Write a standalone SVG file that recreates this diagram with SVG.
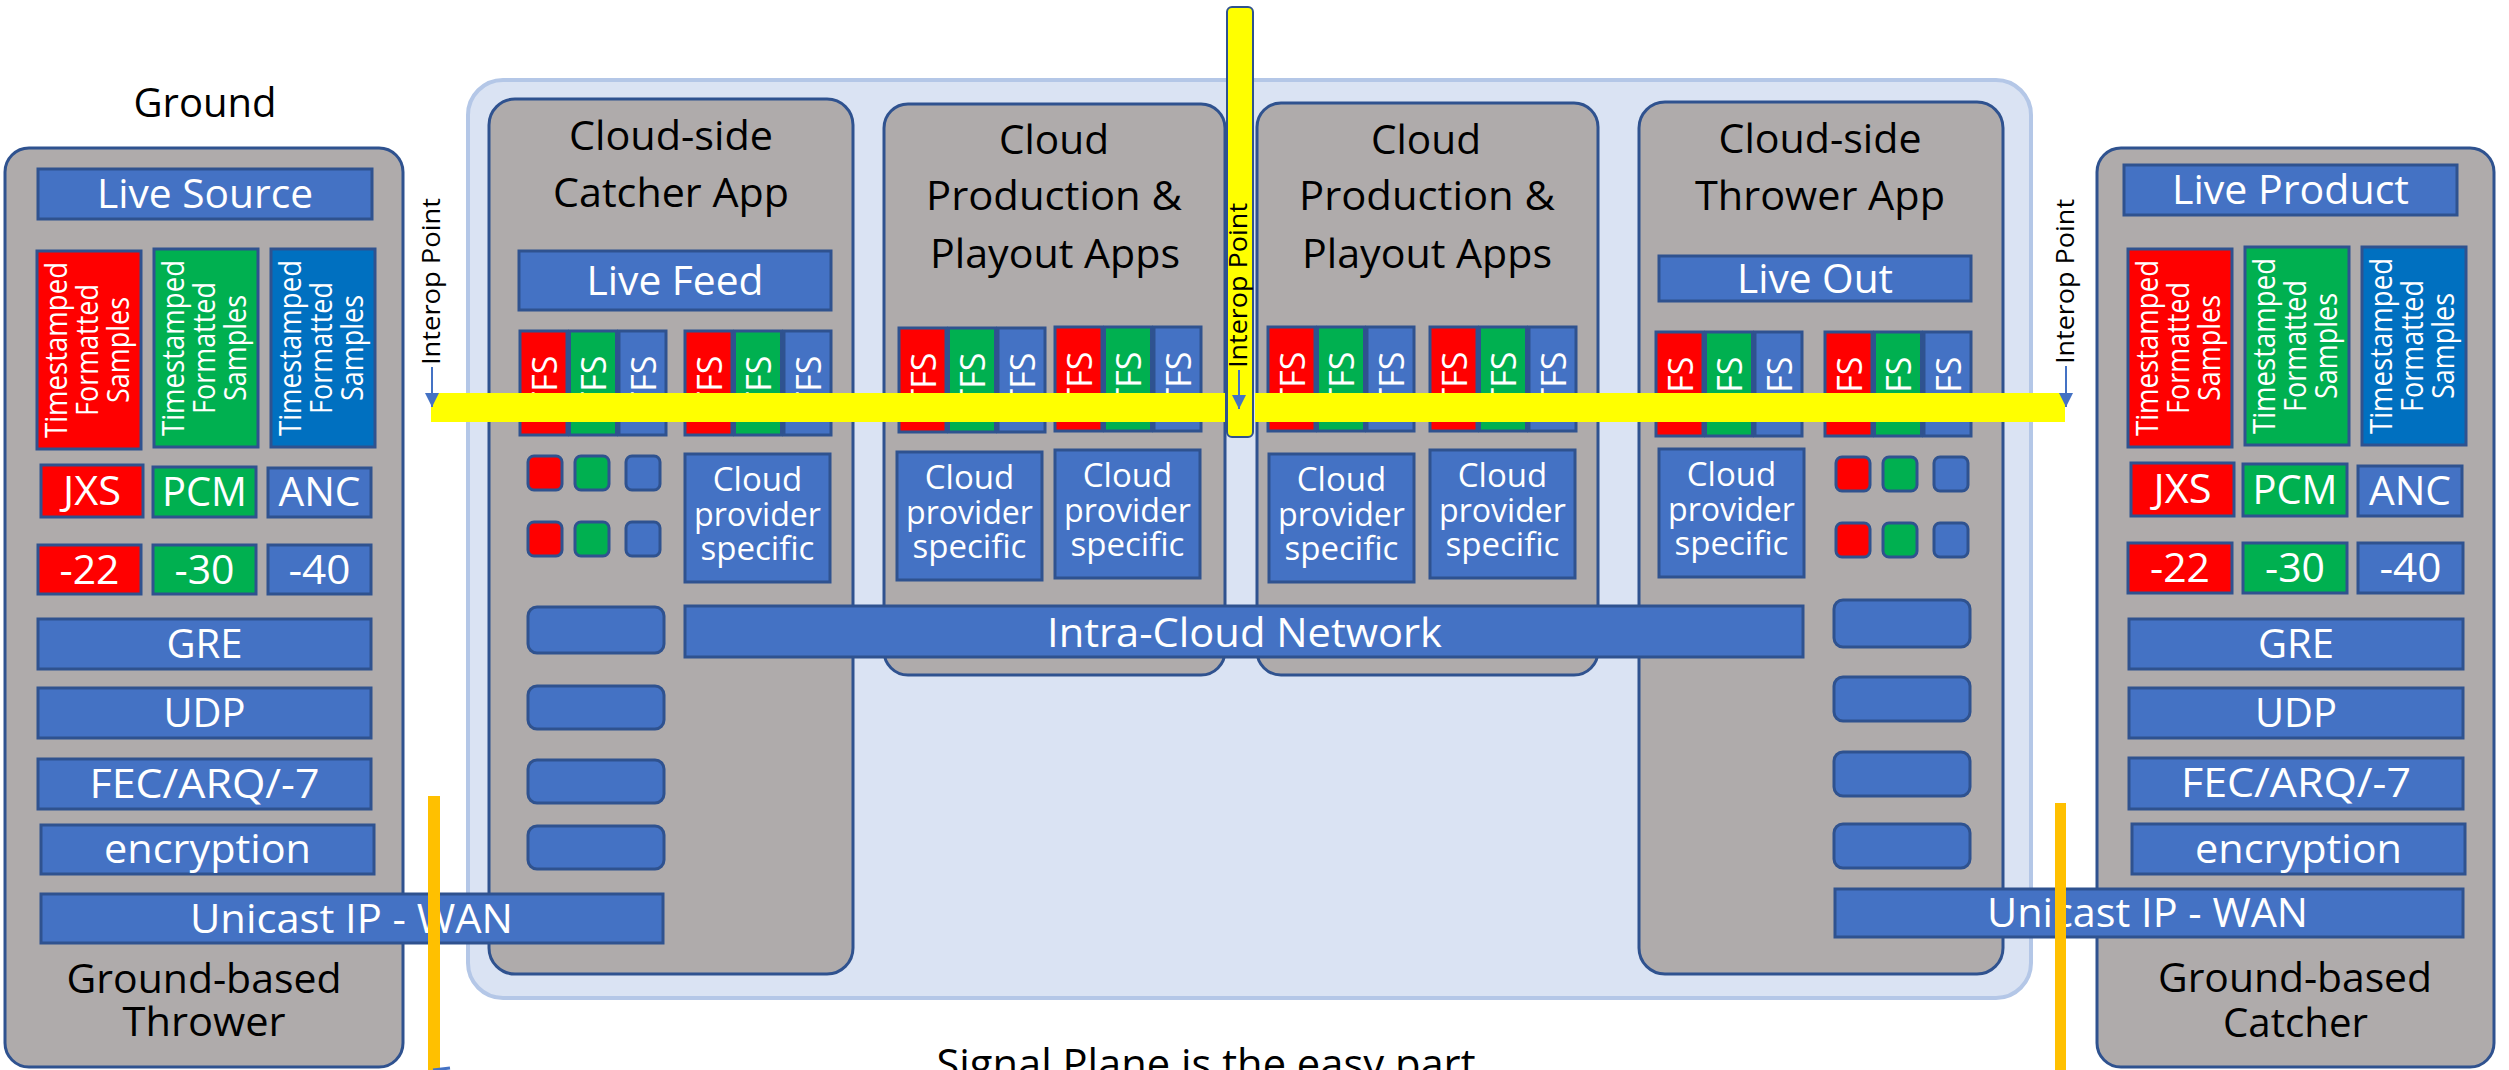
<svg xmlns="http://www.w3.org/2000/svg" xmlns:xlink="http://www.w3.org/1999/xlink" width="2509" height="1070" viewBox="0 0 2509 1070">
<style>
text{font-family:"Open Sans","Noto Sans","DejaVu Sans",sans-serif;}
.gbox{fill:#AFABAB;stroke:#2F528F;stroke-width:3}
.blue{fill:#4472C4;stroke:#2F528F;stroke-width:3}
.red{fill:#FF0000;stroke:#2F528F;stroke-width:3}
.green{fill:#00B050;stroke:#2F528F;stroke-width:3}
.dblue{fill:#0070C0;stroke:#2F528F;stroke-width:3}
.slot{fill:#4472C4;stroke:#2F528F;stroke-width:3}
.w{fill:#FFFFFF;text-anchor:middle}
.k{fill:#000000;text-anchor:middle}
.f40{font-size:40px}
.f41{font-size:41px}
.f32{font-size:33px}
.f34{font-size:34px}
.f29{font-size:30.5px}
.f26{font-size:26px}
.yel{fill:#FFFF00}
.org{fill:#FFC000}
.arr{stroke:#4472C4;stroke-width:2;fill:none}
</style>
<defs>
<marker id="ah" markerUnits="userSpaceOnUse" markerWidth="14" markerHeight="16" refX="14" refY="7" orient="auto" viewBox="0 0 14 14">
<path d="M0,0 L14,7 L0,14 z" fill="#4472C4"/>
</marker>
<g id="tfs">
<rect class="red" x="0" y="0" width="47" height="104"/>
<rect class="green" x="49.5" y="0" width="47" height="104"/>
<rect class="blue" x="99" y="0" width="47" height="104"/>
<text class="w f34" transform="translate(24.5,52) rotate(-90)" y="12">TFS</text>
<text class="w f34" transform="translate(74,52) rotate(-90)" y="12">TFS</text>
<text class="w f34" transform="translate(123.5,52) rotate(-90)" y="12">TFS</text>
</g>
<g id="sq">
<rect class="red" x="0" y="0" width="34" height="34" rx="6"/>
<rect class="green" x="47" y="0" width="34" height="34" rx="6"/>
<rect class="blue" x="98" y="0" width="34" height="34" rx="6"/>
<rect class="red" x="0" y="66" width="34" height="34" rx="6"/>
<rect class="green" x="47" y="66" width="34" height="34" rx="6"/>
<rect class="blue" x="98" y="66" width="34" height="34" rx="6"/>
</g>
<g id="cps">
<rect class="blue" x="0" y="0" width="145" height="128"/>
<text class="w f32" x="72.5" y="37">Cloud</text>
<text class="w f32" x="72.5" y="72" textLength="127" lengthAdjust="spacingAndGlyphs">provider</text>
<text class="w f32" x="72.5" y="106">specific</text>
</g>
<g id="tfsbig">
<rect class="red" x="0" y="0" width="104" height="198"/>
<rect class="green" x="117" y="-2" width="104" height="198"/>
<rect class="dblue" x="234" y="-2" width="104" height="198"/>
<g transform="translate(52,99) rotate(-90)">
<text class="w f29" y="-22" textLength="176" lengthAdjust="spacingAndGlyphs">Timestamped</text>
<text class="w f29" y="9" textLength="132" lengthAdjust="spacingAndGlyphs">Formatted</text>
<text class="w f29" y="40" textLength="106" lengthAdjust="spacingAndGlyphs">Samples</text>
</g>
<g transform="translate(169,97) rotate(-90)">
<text class="w f29" y="-22" textLength="176" lengthAdjust="spacingAndGlyphs">Timestamped</text>
<text class="w f29" y="9" textLength="132" lengthAdjust="spacingAndGlyphs">Formatted</text>
<text class="w f29" y="40" textLength="106" lengthAdjust="spacingAndGlyphs">Samples</text>
</g>
<g transform="translate(286,97) rotate(-90)">
<text class="w f29" y="-22" textLength="176" lengthAdjust="spacingAndGlyphs">Timestamped</text>
<text class="w f29" y="9" textLength="132" lengthAdjust="spacingAndGlyphs">Formatted</text>
<text class="w f29" y="40" textLength="106" lengthAdjust="spacingAndGlyphs">Samples</text>
</g>
</g>
</defs>

<rect width="2509" height="1070" fill="#FFFFFF"/>

<g id="cloud-region">
<rect x="468" y="80" width="1563" height="918" rx="35" fill="#DAE3F3" stroke="#B4C7E7" stroke-width="4"/>
</g>

<text class="k f41" x="205" y="117" textLength="143" lengthAdjust="spacingAndGlyphs">Ground</text>

<g id="ground-thrower">
<rect class="gbox" x="5" y="148" width="398" height="919" rx="24"/>
<rect class="blue" x="38" y="169" width="334" height="50"/>
<text class="w f40" x="205" y="208" textLength="216" lengthAdjust="spacingAndGlyphs">Live Source</text>
<use xlink:href="#tfsbig" x="37" y="251"/>
<rect class="red" x="41" y="465" width="102" height="52"/>
<text class="w f40" x="92" y="505" textLength="58" lengthAdjust="spacingAndGlyphs">JXS</text>
<rect class="green" x="153" y="467" width="103" height="50"/>
<text class="w f40" x="204.5" y="506" textLength="85" lengthAdjust="spacingAndGlyphs">PCM</text>
<rect class="blue" x="268" y="468" width="103" height="49"/>
<text class="w f40" x="319.5" y="506" textLength="82" lengthAdjust="spacingAndGlyphs">ANC</text>
<rect class="red" x="38" y="545" width="103" height="49"/>
<text class="w f40" x="89.5" y="584" textLength="60" lengthAdjust="spacingAndGlyphs">-22</text>
<rect class="green" x="153" y="545" width="103" height="49"/>
<text class="w f40" x="204.5" y="584" textLength="60" lengthAdjust="spacingAndGlyphs">-30</text>
<rect class="blue" x="268" y="545" width="103" height="49"/>
<text class="w f40" x="319.5" y="584" textLength="62" lengthAdjust="spacingAndGlyphs">-40</text>
<rect class="blue" x="38" y="619" width="333" height="50"/>
<text class="w f40" x="204.5" y="658" textLength="76" lengthAdjust="spacingAndGlyphs">GRE</text>
<rect class="blue" x="38" y="688" width="333" height="50"/>
<text class="w f40" x="204.5" y="727" textLength="82" lengthAdjust="spacingAndGlyphs">UDP</text>
<rect class="blue" x="38" y="759" width="333" height="50"/>
<text class="w f40" x="204.5" y="798" textLength="230" lengthAdjust="spacingAndGlyphs">FEC/ARQ/-7</text>
<rect class="blue" x="41" y="825" width="333" height="49"/>
<text class="w f40" x="207.5" y="863" textLength="207" lengthAdjust="spacingAndGlyphs">encryption</text>
<text class="k f40" x="204" y="993" textLength="275" lengthAdjust="spacingAndGlyphs">Ground-based</text>
<text class="k f40" x="204" y="1036" textLength="163" lengthAdjust="spacingAndGlyphs">Thrower</text>
</g>

<g id="ground-catcher">
<rect class="gbox" x="2097" y="148" width="397" height="919" rx="24"/>
<rect class="blue" x="2124" y="165" width="333" height="50"/>
<text class="w f40" x="2290.5" y="204" textLength="237" lengthAdjust="spacingAndGlyphs">Live Product</text>
<use xlink:href="#tfsbig" x="2128" y="249"/>
<rect class="red" x="2131" y="463" width="103" height="53"/>
<text class="w f40" x="2182.5" y="503" textLength="58" lengthAdjust="spacingAndGlyphs">JXS</text>
<rect class="green" x="2243" y="464" width="104" height="52"/>
<text class="w f40" x="2295" y="504" textLength="85" lengthAdjust="spacingAndGlyphs">PCM</text>
<rect class="blue" x="2358" y="466" width="104" height="50"/>
<text class="w f40" x="2410" y="505" textLength="82" lengthAdjust="spacingAndGlyphs">ANC</text>
<rect class="red" x="2128" y="543" width="104" height="50"/>
<text class="w f40" x="2180" y="582" textLength="60" lengthAdjust="spacingAndGlyphs">-22</text>
<rect class="green" x="2243" y="543" width="104" height="50"/>
<text class="w f40" x="2295" y="582" textLength="60" lengthAdjust="spacingAndGlyphs">-30</text>
<rect class="blue" x="2358" y="543" width="105" height="50"/>
<text class="w f40" x="2410.5" y="582" textLength="62" lengthAdjust="spacingAndGlyphs">-40</text>
<rect class="blue" x="2129" y="619" width="334" height="50"/>
<text class="w f40" x="2296" y="658" textLength="76" lengthAdjust="spacingAndGlyphs">GRE</text>
<rect class="blue" x="2129" y="688" width="334" height="50"/>
<text class="w f40" x="2296" y="727" textLength="82" lengthAdjust="spacingAndGlyphs">UDP</text>
<rect class="blue" x="2129" y="758" width="334" height="51"/>
<text class="w f40" x="2296" y="797" textLength="230" lengthAdjust="spacingAndGlyphs">FEC/ARQ/-7</text>
<rect class="blue" x="2132" y="824" width="333" height="50"/>
<text class="w f40" x="2298.5" y="863" textLength="207" lengthAdjust="spacingAndGlyphs">encryption</text>
<text class="k f40" x="2295" y="992" textLength="274" lengthAdjust="spacingAndGlyphs">Ground-based</text>
<text class="k f40" x="2295.5" y="1037" textLength="145" lengthAdjust="spacingAndGlyphs">Catcher</text>
</g>

<g id="catcher-app">
<rect class="gbox" x="489" y="99" width="364" height="875" rx="26"/>
<text class="k f41" x="671" y="150" textLength="204" lengthAdjust="spacingAndGlyphs">Cloud-side</text>
<text class="k f41" x="671" y="207" textLength="236" lengthAdjust="spacingAndGlyphs">Catcher App</text>
<rect class="blue" x="519" y="251" width="312" height="59"/>
<text class="w f40" x="675" y="295" textLength="177" lengthAdjust="spacingAndGlyphs">Live Feed</text>
<use xlink:href="#tfs" x="520" y="331"/>
<use xlink:href="#tfs" x="685" y="331"/>
<use xlink:href="#sq" x="528" y="456"/>
<use xlink:href="#cps" x="685" y="454"/>
<rect class="slot" x="528" y="607" width="136" height="46" rx="9"/>
<rect class="slot" x="528" y="686" width="136" height="43" rx="9"/>
<rect class="slot" x="528" y="760" width="136" height="43" rx="9"/>
<rect class="slot" x="528" y="826" width="136" height="43" rx="9"/>
</g>

<g id="production-apps-1">
<rect class="gbox" x="884" y="104" width="341" height="571" rx="24"/>
<text class="k f41" x="1054" y="154" textLength="110" lengthAdjust="spacingAndGlyphs">Cloud</text>
<text class="k f41" x="1054" y="210" textLength="256" lengthAdjust="spacingAndGlyphs">Production &amp;</text>
<text class="k f41" x="1055" y="268" textLength="250" lengthAdjust="spacingAndGlyphs">Playout Apps</text>
<use xlink:href="#tfs" x="899" y="328"/>
<use xlink:href="#tfs" x="1055" y="327"/>
<use xlink:href="#cps" x="897" y="452"/>
<use xlink:href="#cps" x="1055" y="450"/>
</g>

<g id="production-apps-2">
<rect class="gbox" x="1257" y="103" width="341" height="572" rx="24"/>
<text class="k f41" x="1426" y="154" textLength="110" lengthAdjust="spacingAndGlyphs">Cloud</text>
<text class="k f41" x="1427" y="210" textLength="256" lengthAdjust="spacingAndGlyphs">Production &amp;</text>
<text class="k f41" x="1427" y="268" textLength="250" lengthAdjust="spacingAndGlyphs">Playout Apps</text>
<use xlink:href="#tfs" x="1268" y="327"/>
<use xlink:href="#tfs" x="1430" y="327"/>
<use xlink:href="#cps" x="1269" y="454"/>
<use xlink:href="#cps" x="1430" y="450"/>
</g>

<g id="thrower-app">
<rect class="gbox" x="1639" y="102" width="364" height="872" rx="26"/>
<text class="k f41" x="1820" y="153" textLength="203" lengthAdjust="spacingAndGlyphs">Cloud-side</text>
<text class="k f41" x="1820" y="210" textLength="250" lengthAdjust="spacingAndGlyphs">Thrower App</text>
<rect class="blue" x="1659" y="256" width="312" height="45"/>
<text class="w f40" x="1815" y="293" textLength="156" lengthAdjust="spacingAndGlyphs">Live Out</text>
<use xlink:href="#tfs" x="1656" y="332"/>
<use xlink:href="#tfs" x="1825" y="332"/>
<use xlink:href="#cps" x="1659" y="449"/>
<use xlink:href="#sq" x="1836" y="457"/>
<rect class="slot" x="1834" y="600" width="136" height="47" rx="9"/>
<rect class="slot" x="1834" y="677" width="136" height="44" rx="9"/>
<rect class="slot" x="1834" y="752" width="136" height="44" rx="9"/>
<rect class="slot" x="1834" y="824" width="136" height="44" rx="9"/>
</g>

<g id="intra-cloud-network">
<rect class="blue" x="685" y="606" width="1118" height="51"/>
<text class="w f41" x="1244.5" y="647" textLength="395" lengthAdjust="spacingAndGlyphs">Intra-Cloud Network</text>
</g>

<g id="unicast-left">
<rect class="blue" x="41" y="894" width="622" height="49"/>
<text class="w f40" x="351.5" y="933" textLength="323" lengthAdjust="spacingAndGlyphs">Unicast IP - WAN</text>
</g>

<g id="unicast-right">
<rect class="blue" x="1835" y="889" width="628" height="48"/>
<text class="w f40" x="2147.5" y="927" textLength="321" lengthAdjust="spacingAndGlyphs">Unicast IP - WAN</text>
</g>

<g id="connectors">
<rect class="yel" x="431" y="393" width="794" height="29"/>
<rect class="yel" x="1255" y="393" width="810" height="29"/>
<rect x="1227" y="7" width="26" height="430" rx="5" fill="#FFFF00" stroke="#2F528F" stroke-width="2"/>
<line class="arr" x1="432" y1="367" x2="432" y2="407" marker-end="url(#ah)"/>
<line class="arr" x1="1239" y1="370" x2="1239" y2="409" marker-end="url(#ah)"/>
<line class="arr" x1="2066" y1="366" x2="2066" y2="407" marker-end="url(#ah)"/>
<rect class="org" x="428" y="796" width="12" height="274"/>
<rect class="org" x="2055" y="803" width="11" height="267"/>
<path d="M433 1070 L450 1068" stroke="#4472C4" stroke-width="3" fill="none"/>
</g>

<g id="interop-labels">
<text class="k f26" transform="translate(432,281.5) rotate(-90)" y="8" textLength="167" lengthAdjust="spacingAndGlyphs">Interop Point</text>
<text class="k f26" transform="translate(1240,285.5) rotate(-90)" y="7" textLength="165" lengthAdjust="spacingAndGlyphs">Interop Point</text>
<text class="k f26" transform="translate(2066,281.5) rotate(-90)" y="8" textLength="165" lengthAdjust="spacingAndGlyphs">Interop Point</text>
</g>

<text class="k" style="font-size:42px" x="1206" y="1079" textLength="539" lengthAdjust="spacingAndGlyphs">Signal Plane is the easy part</text>
</svg>
